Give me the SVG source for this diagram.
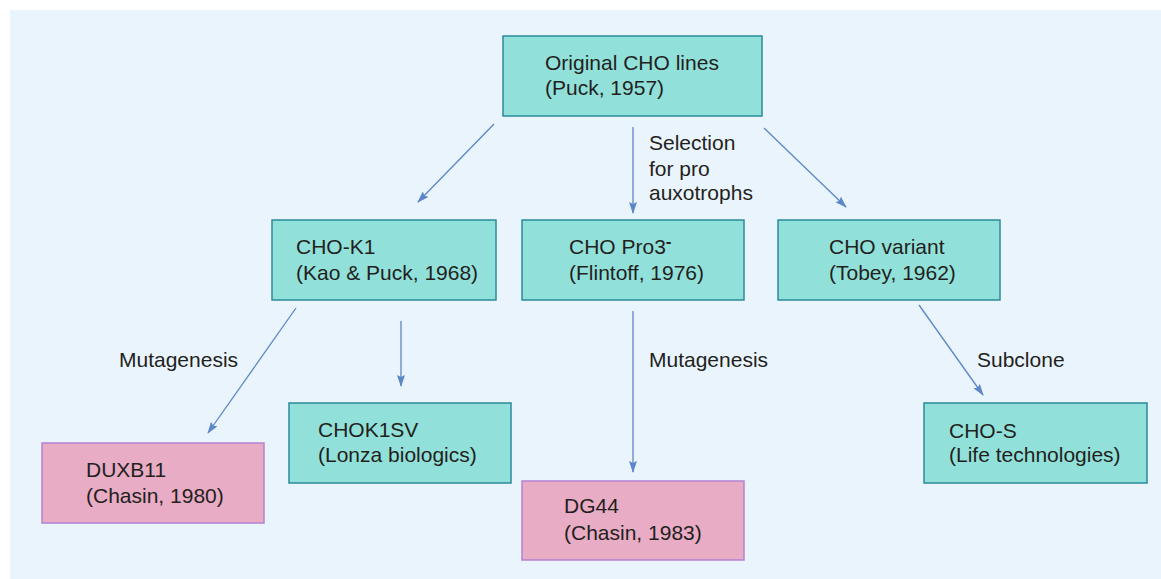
<svg xmlns="http://www.w3.org/2000/svg" width="1161" height="579" viewBox="0 0 1161 579">
<style>
text{font-family:"Liberation Sans",Arial,sans-serif;font-size:21px;fill:#231f20}
.teal{fill:#91e1da;stroke:#2b8b9b;stroke-width:1.5}
.pink{fill:#e8acc5;stroke:#b482d2;stroke-width:1.5}
.conn{stroke:#5b86c8;stroke-width:1.3;fill:none;marker-end:url(#ah)}
</style>
<defs>
<marker id="ah" viewBox="0 0 12 8" refX="11" refY="4" markerWidth="12" markerHeight="8" markerUnits="userSpaceOnUse" orient="auto">
<path d="M0,0 L12,4 L0,8 L2,4 Z" fill="#5b86c8"/>
</marker>
</defs>
<rect x="10" y="10" width="1151" height="569" fill="#eaf4fd"/>
<g id="connectors">
<line class="conn" x1="494" y1="124" x2="418" y2="202"/>
<line class="conn" x1="633" y1="127" x2="633" y2="213"/>
<line class="conn" x1="764" y1="128" x2="846" y2="207"/>
<line class="conn" x1="296" y1="308" x2="208" y2="433"/>
<line class="conn" x1="401" y1="321" x2="401" y2="386"/>
<line class="conn" x1="633" y1="311" x2="633" y2="472"/>
<line class="conn" x1="919" y1="305" x2="983" y2="395"/>
<text x="649" y="150">Selection</text>
<text x="649" y="176">for pro</text>
<text x="649" y="200">auxotrophs</text>
<text x="119" y="367">Mutagenesis</text>
<text x="649" y="367">Mutagenesis</text>
<text x="977" y="367">Subclone</text>
</g>
<g id="original">
<rect class="teal" x="503" y="36" width="259" height="80"/>
<text x="545" y="70">Original CHO lines</text>
<text x="545" y="95">(Puck, 1957)</text>
</g>
<g id="chok1">
<rect class="teal" x="272" y="220" width="224" height="80"/>
<text x="296" y="254">CHO-K1</text>
<text x="296" y="280">(Kao &amp; Puck, 1968)</text>
</g>
<g id="chopro3">
<rect class="teal" x="522" y="220" width="222" height="80"/>
<text x="569" y="254">CHO Pro3<tspan dy="-7" font-size="17" font-weight="bold">-</tspan></text>
<text x="569" y="280">(Flintoff, 1976)</text>
</g>
<g id="chovariant">
<rect class="teal" x="778" y="220" width="222" height="80"/>
<text x="829" y="254">CHO variant</text>
<text x="829" y="280">(Tobey, 1962)</text>
</g>
<g id="duxb11">
<rect class="pink" x="42" y="443" width="222" height="80"/>
<text x="86" y="477">DUXB11</text>
<text x="86" y="503">(Chasin, 1980)</text>
</g>
<g id="chok1sv">
<rect class="teal" x="289" y="403" width="222" height="80"/>
<text x="318" y="437">CHOK1SV</text>
<text x="318" y="462">(Lonza biologics)</text>
</g>
<g id="dg44">
<rect class="pink" x="522" y="481" width="222" height="79"/>
<text x="564" y="513">DG44</text>
<text x="564" y="540">(Chasin, 1983)</text>
</g>
<g id="chos">
<rect class="teal" x="924" y="403" width="223" height="80"/>
<text x="949" y="438">CHO-S</text>
<text x="949" y="462">(Life technologies)</text>
</g>
</svg>
